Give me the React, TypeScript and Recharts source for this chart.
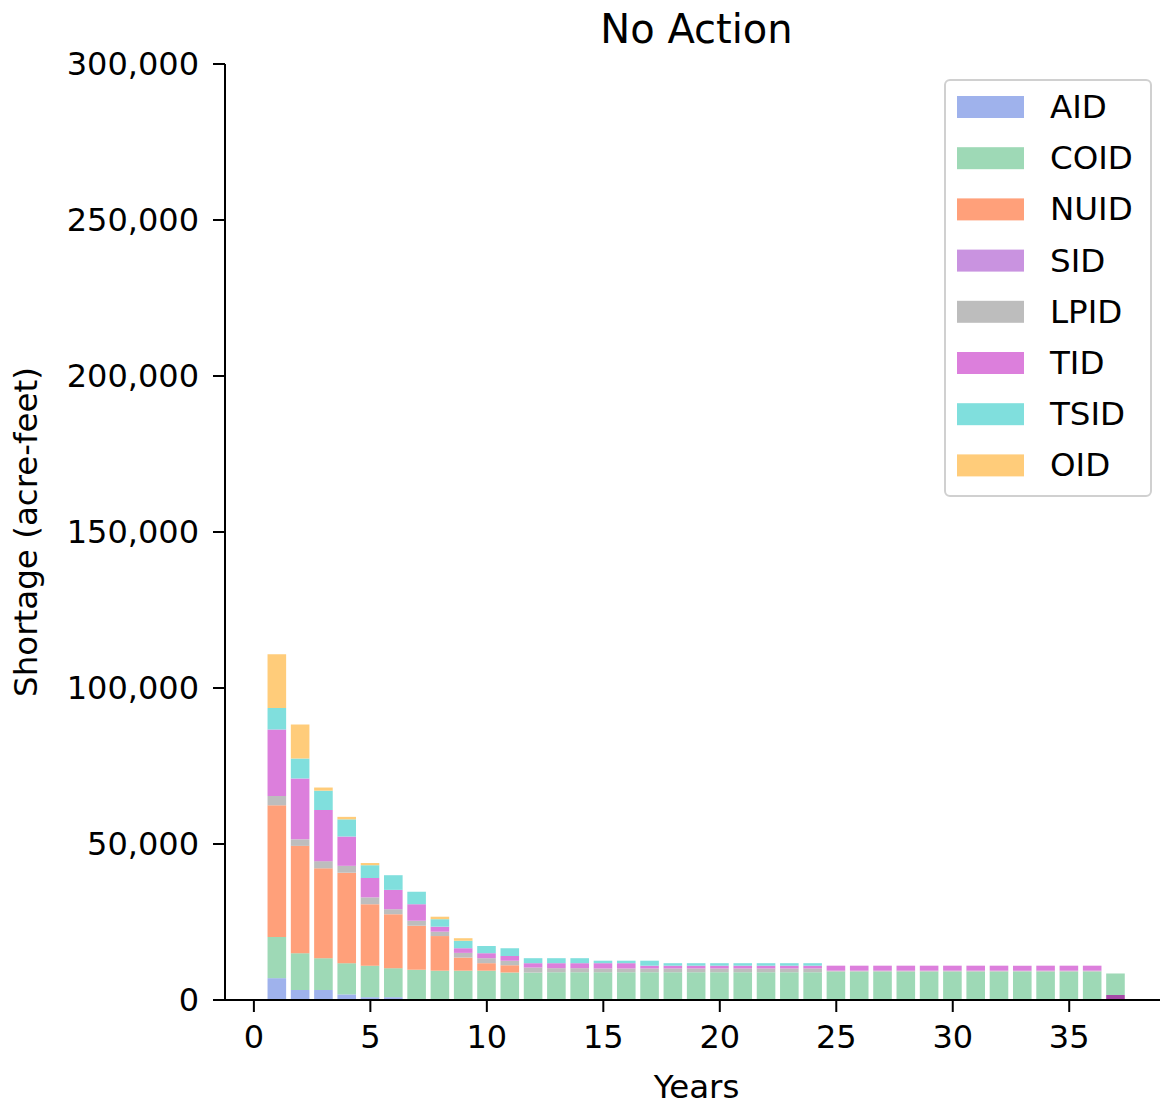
import { BarChart, Bar, XAxis, YAxis } from 'recharts';

// Years 1..37 of the simulation
const years = [
  1, 2, 3, 4, 5, 6, 7, 8, 9, 10, 11, 12, 13, 14, 15, 16, 17, 18, 19,
  20, 21, 22, 23, 24, 25, 26, 27, 28, 29, 30, 31, 32, 33, 34, 35, 36, 37,
];

// Shortage per district, acre-feet
const aid = [
  7000, 3200, 3200, 1800, 900, 900, 300, 0, 0, 0, 0, 0, 0, 0, 0, 0, 0, 0, 0,
  0, 0, 0, 0, 0, 0, 0, 0, 0, 0, 0, 0, 0, 0, 0, 0, 0, 0,
];
const coid = [
  13200, 11800, 10200, 10000, 10100, 9300, 9400, 9400, 9400, 9400, 8800, 8800,
  8900, 8900, 8900, 8900, 8900, 8900, 8900, 8900, 8900, 8900, 8900, 8900,
  9100, 9100, 9100, 9100, 9100, 9100, 9100, 9100, 9100, 9100, 9100, 9100, 6900,
];
const nuid = [
  42200, 34400, 28800, 29000, 19700, 17300, 14100, 11100, 4200, 2400, 2300, 0,
  0, 0, 0, 0, 0, 0, 0, 0, 0, 0, 0, 0, 0, 0, 0, 0, 0, 0, 0, 0, 0, 0, 0, 0, 0,
];
const sid = [
  0, 0, 0, 0, 0, 0, 0, 0, 0, 0, 0, 0, 0, 0, 0, 0, 0, 0, 0,
  0, 0, 0, 0, 0, 0, 0, 0, 0, 0, 0, 0, 0, 0, 0, 0, 0, 0,
];
const lpid = [
  3000, 2100, 2300, 2200, 2200, 1600, 1600, 1400, 1500, 1600, 1500, 1600, 1300,
  1300, 1200, 1200, 1200, 1200, 1200, 1200, 1200, 1200, 1200, 1200,
  300, 300, 300, 300, 300, 300, 300, 300, 300, 300, 300, 300, 0,
];
const tid = [
  21300, 19500, 16400, 9400, 6200, 6200, 5300, 1600, 1500, 1600, 1500, 1400,
  1600, 1600, 1700, 1700, 900, 900, 900, 900, 900, 900, 900, 900,
  1600, 1600, 1600, 1600, 1600, 1600, 1600, 1600, 1600, 1600, 1600, 1600, 0,
];
const tsid = [
  6900, 6400, 6200, 5500, 4100, 4700, 4000, 2400, 2400, 2300, 2500, 1600, 1600,
  1600, 800, 800, 1600, 800, 800, 800, 800, 800, 800, 800,
  0, 0, 0, 0, 0, 0, 0, 0, 0, 0, 0, 0, 0,
];
const oid = [
  17200, 10900, 1000, 800, 700, 0, 0, 800, 800, 0, 0, 0, 0, 0, 0, 0, 0, 0, 0,
  0, 0, 0, 0, 0, 0, 0, 0, 0, 0, 0, 0, 0, 0, 0, 0, 0, 0,
];
// overlapping segment drawn under COID in the final year
const lastYearOverlap = [
  0, 0, 0, 0, 0, 0, 0, 0, 0, 0, 0, 0, 0, 0, 0, 0, 0, 0, 0,
  0, 0, 0, 0, 0, 0, 0, 0, 0, 0, 0, 0, 0, 0, 0, 0, 0, 1600,
];

const xTicks = [0, 5, 10, 15, 20, 25, 30, 35];
const yTicks = [0, 50000, 100000, 150000, 200000, 250000, 300000];

const series = [
  { key: 'AID', values: aid, color: '#9fb2ec' },
  { key: 'COID', values: coid, color: '#9ed9b6' },
  { key: 'NUID', values: nuid, color: '#ffa07a' },
  { key: 'SID', values: sid, color: '#c993e0' },
  { key: 'LPID', values: lpid, color: '#bdbdbd' },
  { key: 'TID', values: tid, color: '#dc7fdc' },
  { key: 'TSID', values: tsid, color: '#80dfdd' },
  { key: 'OID', values: oid, color: '#ffcc7a' },
];

const data = years.map((year, i) => {
  const row: Record<string, number> = { year, overlap: lastYearOverlap[i] };
  series.forEach((s) => {
    row[s.key] = s.values[i];
  });
  return row;
});

const FONT = 'DejaVu Sans';
const xDomain: [number, number] = [-1.24, 39.24];
const tickStyle = { fill: '#000', fontSize: 32, fontFamily: FONT };

export default function App() {
  return (
    <div
      style={{
        position: 'absolute',
        left: 0,
        top: 0,
        width: 1160,
        height: 1105,
        overflow: 'hidden',
        background: '#fff',
      }}
    >
      <BarChart
        width={1180}
        height={1105}
        data={data}
        margin={{ top: 64, right: 12, bottom: 0, left: 25 }}
        barSize={18.6}
      >
        <XAxis
          dataKey="year"
          type="number"
          domain={xDomain}
          ticks={xTicks}
          height={105}
          tick={tickStyle}
          tickSize={12}
          tickMargin={13}
          axisLine={{ stroke: '#000', strokeWidth: 2 }}
          tickLine={{ stroke: '#000', strokeWidth: 2 }}
          allowDataOverflow
        />
        <XAxis
          xAxisId="top"
          orientation="top"
          dataKey="year"
          type="number"
          domain={xDomain}
          height={0}
          tick={false}
          tickLine={false}
          axisLine={{ stroke: '#000', strokeWidth: 2 }}
          allowDataOverflow
        />
        <YAxis
          type="number"
          domain={[0, 300000]}
          ticks={yTicks}
          width={200}
          tick={tickStyle}
          tickSize={12}
          tickMargin={14}
          tickFormatter={(v: number) => v.toLocaleString('en-US')}
          axisLine={{ stroke: '#000', strokeWidth: 2 }}
          tickLine={{ stroke: '#000', strokeWidth: 2 }}
        />
        <Bar
          dataKey="overlap"
          stackId="a"
          fill="#a64aa8"
          isAnimationActive={false}
        />
        {series.map((s) => (
          <Bar
            key={s.key}
            dataKey={s.key}
            stackId="a"
            fill={s.color}
            isAnimationActive={false}
          />
        ))}
      </BarChart>

      {/* title, axis labels and legend */}
      <svg
        width={1160}
        height={1105}
        style={{ position: 'absolute', left: 0, top: 0, pointerEvents: 'none' }}
        fontFamily={FONT}
      >
        <text x={696.5} y={43} fontSize={40} textAnchor="middle" fill="#000">
          No Action
        </text>
        <text x={696.5} y={1098} fontSize={32.5} textAnchor="middle" fill="#000">
          Years
        </text>
        <text
          x={37}
          y={532}
          fontSize={32.5}
          textAnchor="middle"
          fill="#000"
          transform="rotate(-90 37 532)"
        >
          Shortage (acre-feet)
        </text>
        <rect
          x={945}
          y={80}
          width={206}
          height={416}
          rx={5}
          fill="#fff"
          fillOpacity={0.8}
          stroke="#d0d0d0"
          strokeWidth={2}
        />
        {series.map((s, i) => {
          const cy = 107 + i * 51.2;
          return (
            <g key={s.key}>
              <rect x={957} y={cy - 11} width={67} height={22} fill={s.color} />
              <text
                x={1050}
                y={cy}
                fontSize={32.5}
                dominantBaseline="central"
                fill="#000"
              >
                {s.key}
              </text>
            </g>
          );
        })}
      </svg>
    </div>
  );
}
